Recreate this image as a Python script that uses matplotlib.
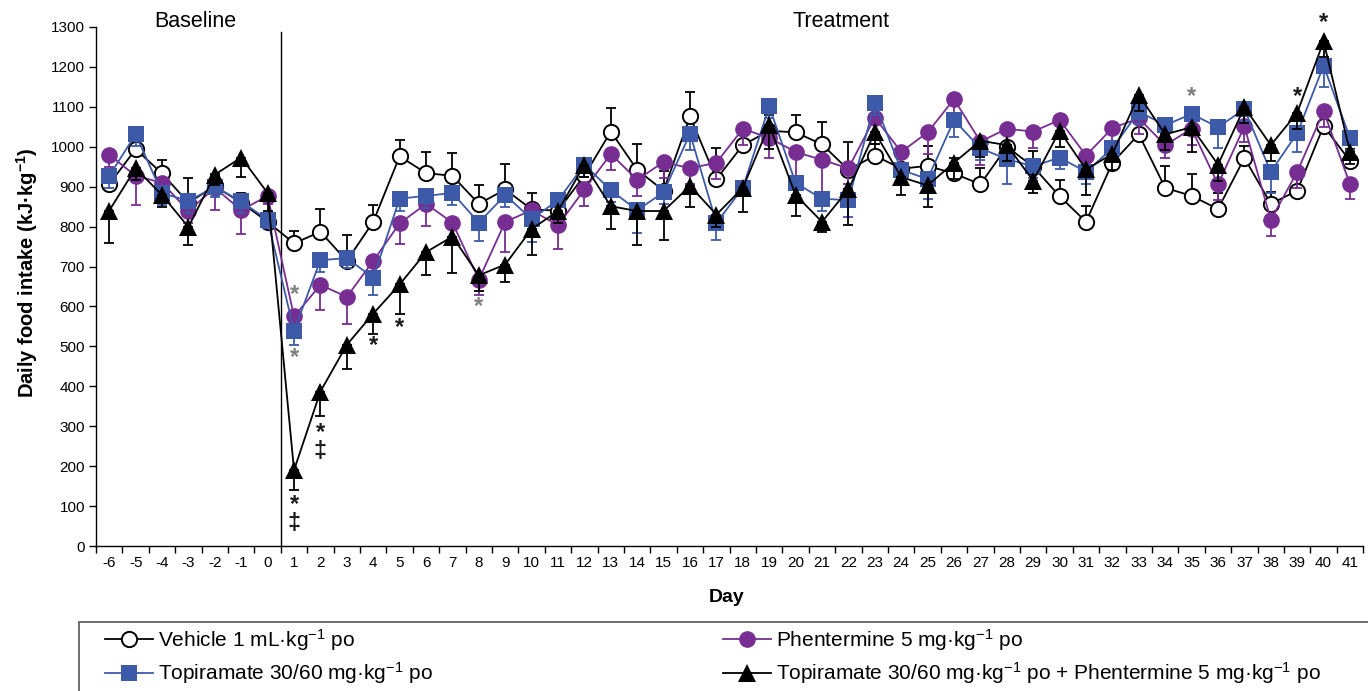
import numpy as np
import matplotlib
matplotlib.use("Agg")
import matplotlib.pyplot as plt
from matplotlib.patches import Rectangle

plt.rcParams['font.family'] = ['Liberation Sans', 'DejaVu Sans']
plt.rcParams['mathtext.fontset'] = 'custom'
plt.rcParams['mathtext.rm'] = 'Liberation Sans'
plt.rcParams['mathtext.it'] = 'Liberation Sans:italic'
plt.rcParams['mathtext.bf'] = 'Liberation Sans:bold'

days = list(range(-6, 42))

vehicle = [906, 994, 933, 860, 901, 860, 812,
           758, 787, 714, 812, 976, 934, 927, 857, 893, 843,
           840, 928, 1038, 942, 890, 1076, 919, 1004, 1040, 1036,
           1006, 942, 978, 945, 952, 933, 906, 1000, 950, 876,
           812, 960, 1031, 897, 877, 844, 972, 857, 890, 1052, 964]
vehicle_sem = [30, 25, 34, 62, 30, 25, 16,
               32, 58, 64, 43, 40, 54, 57, 46, 65, 41,
               30, 30, 60, 65, 50, 60, 77, 40, 40, 43,
               57, 70, 30, 30, 50, 40, 40, 40, 40, 40,
               40, 40, 30, 54, 54, 40, 30, 30, 30, 40, 30]

phen = [980, 927, 910, 839, 897, 841, 877,
        575, 654, 624, 714, 808, 857, 810, 667, 812, 841,
        803, 893, 982, 917, 962, 946, 960, 1045, 1022, 987,
        967, 946, 1073, 987, 1036, 1119, 1013, 1045, 1038, 1067,
        978, 1047, 1071, 1004, 1045, 906, 1051, 817, 937, 1089, 906]
phen_sem = [30, 72, 40, 30, 55, 60, 20,
            40, 64, 67, 40, 51, 56, 40, 38, 76, 30,
            58, 41, 40, 40, 40, 40, 40, 40, 49, 78,
            95, 40, 40, 40, 54, 40, 58, 40, 42, 40,
            40, 40, 40, 31, 40, 40, 40, 41, 40, 40, 36]

topi = [927, 1031, 884, 864, 900, 863, 817,
        539, 716, 721, 672, 870, 877, 884, 810, 879, 819,
        866, 955, 891, 841, 886, 1033, 809, 897, 1101, 909,
        870, 866, 1110, 942, 919, 1067, 996, 969, 951, 973,
        937, 996, 1088, 1054, 1082, 1049, 1094, 937, 1034, 1203, 1022]
topi_sem = [30, 30, 30, 30, 25, 30, 20,
            35, 30, 25, 43, 30, 30, 30, 47, 30, 58,
            30, 30, 30, 56, 30, 42, 42, 18, 30, 30,
            30, 43, 30, 30, 49, 42, 30, 63, 30, 30,
            30, 30, 30, 30, 30, 51, 30, 53, 48, 54, 30]

combo = [840, 946, 879, 799, 930, 973, 884,
         190, 387, 504, 582, 655, 736, 775, 678, 705, 794,
         839, 955, 851, 839, 839, 902, 830, 897, 1054, 879,
         812, 893, 1036, 924, 903, 960, 1015, 1004, 915, 1040,
         943, 982, 1130, 1031, 1049, 955, 1099, 1004, 1085, 1264, 987]
combo_sem = [80, 30, 30, 45, 25, 50, 45,
             49, 62, 61, 50, 73, 56, 90, 40, 45, 65,
             30, 30, 57, 85, 72, 52, 30, 60, 60, 52,
             25, 88, 30, 45, 53, 40, 40, 40, 32, 40,
             64, 40, 40, 40, 63, 40, 40, 40, 40, 40, 30]

# significance marks: (day, y, symbol)
gray_marks = [(1, 629, '*'), (1, 472, '*'), (8, 599, '*'), (35, 1125, '*')]
black_marks = [(1, 80, '*\n‡'), (2, 261, '*\n‡'),
               (4, 501, '*'), (5, 548, '*'), (39, 1125, '*'), (40, 1311, '*')]

PURPLE = '#772D92'
BLUE = '#3D5AA8'

fig = plt.figure(figsize=(13.68, 6.91), dpi=100)
ax = fig.add_axes([0.0702, 0.2098, 0.9263, 0.7512])

x = np.array(days)
zeros = np.zeros(len(days))

series = [
    (vehicle, vehicle_sem, 'up', dict(marker='o', color='black', mfc='white', mec='black', ms=11, mew=1.4)),
    (phen, phen_sem, 'down', dict(marker='o', color=PURPLE, mfc=PURPLE, mec=PURPLE, ms=12, mew=0)),
    (topi, topi_sem, 'down', dict(marker='s', color=BLUE, mfc=BLUE, mec=BLUE, ms=12, mew=0)),
    (combo, combo_sem, 'down', dict(marker='^', color='black', mfc='black', mec='black', ms=13, mew=0)),
]

handles = []
for i, (vals, sem, side, st) in enumerate(series):
    sem = np.array(sem)
    yerr = [zeros, sem] if side == 'up' else [sem, zeros]
    ax.errorbar(x, vals, yerr=yerr, fmt='none', ecolor=st['color'], elinewidth=1.3,
                capsize=3.8, capthick=1.3, zorder=2 + 2 * i)
    h, = ax.plot(x, vals, lw=1.3, zorder=3 + 2 * i, **st)
    handles.append(h)

for d, yv, s in gray_marks:
    ax.text(d, yv, s, color='#7f7f7f', fontsize=17, fontweight='bold', ha='center', va='center', zorder=20)
for d, yv, s in black_marks:
    ax.text(d, yv, s, color='#1a1a1a', fontsize=17, fontweight='bold', ha='center', va='center', zorder=20,
            linespacing=0.75, clip_on=False)

ax.plot([0.5, 0.5], [0, 1288], color='black', lw=1.0, zorder=1)

ax.set_xlim(-6.5, 41.5)
ax.set_ylim(0, 1300)
ax.set_yticks(range(0, 1301, 100))
ax.set_xticks(days)
ax.set_xticklabels([str(d) for d in days])
ax.set_xticks(np.arange(-6.5, 41.6, 1), minor=True)
ax.tick_params(axis='x', which='major', length=0, pad=7, labelsize=11)
ax.tick_params(axis='x', which='minor', length=5, width=1, direction='out')
ax.tick_params(axis='y', length=5, width=1, direction='out', pad=3, labelsize=11)
for sp in ['top', 'right']:
    ax.spines[sp].set_visible(False)
for sp in ['left', 'bottom']:
    ax.spines[sp].set_linewidth(1.0)

ax.text(-2.75, 1313, 'Baseline', fontsize=15.5, ha='center', va='center', clip_on=False)
ax.text(21.7, 1313, 'Treatment', fontsize=15.5, ha='center', va='center', clip_on=False)

fig.text(27 / 1368, 1 - 273 / 691, r'Daily food intake (kJ·kg$^{\mathbf{-1}}$)', rotation=90,
         fontsize=14.5, fontweight='bold', ha='center', va='center')
fig.text(727 / 1368, 1 - 598 / 691, 'Day', fontsize=14, fontweight='bold', ha='center', va='center')

# legend box running off the figure edge
fig.patches.append(Rectangle((79 / 1368, -0.1), 1.0, (691 - 622) / 691 + 0.1, transform=fig.transFigure,
                             fill=False, edgecolor='#555555', lw=1.2))

labels = [r'Vehicle 1 mL·kg$^{-1}$ po',
          r'Phentermine 5 mg·kg$^{-1}$ po',
          r'Topiramate 30/60 mg·kg$^{-1}$ po',
          r'Topiramate 30/60 mg·kg$^{-1}$ po + Phentermine 5 mg·kg$^{-1}$ po']

leg_kw = dict(frameon=False, fontsize=15, handlelength=2.3, handletextpad=0.25,
              labelspacing=0.35, borderpad=0, borderaxespad=0, loc='upper left')
fig.legend([handles[0], handles[2]], [labels[0], labels[2]],
           bbox_to_anchor=(105 / 1368, 1 - 627 / 691), **leg_kw)
fig.legend([handles[1], handles[3]], [labels[1], labels[3]],
           bbox_to_anchor=(723 / 1368, 1 - 627 / 691), **leg_kw)

fig.savefig('out.png', dpi=100)
